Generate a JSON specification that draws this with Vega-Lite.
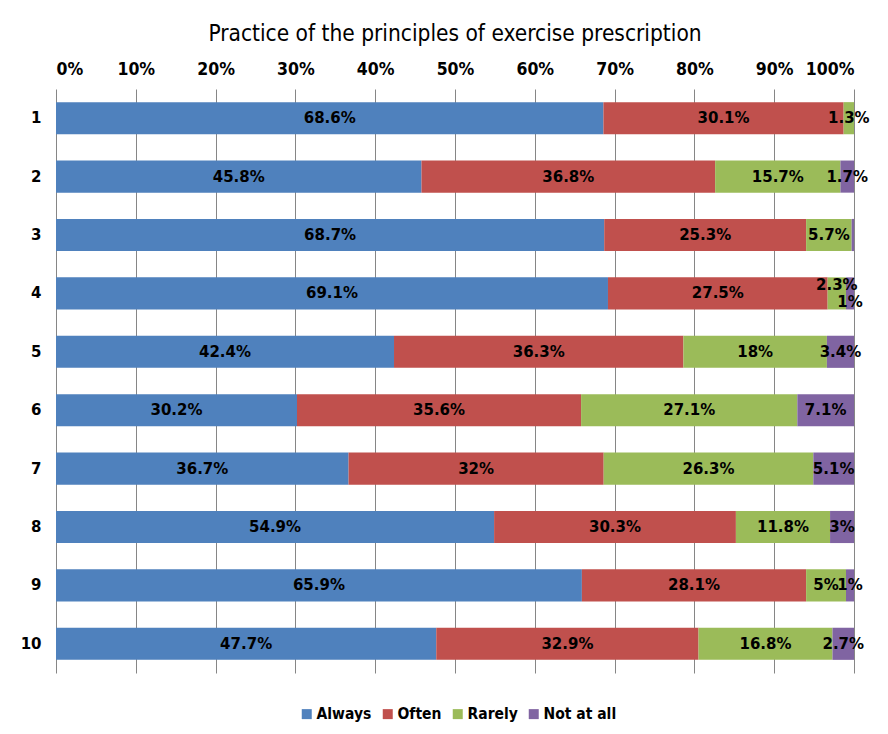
{
  "$schema": "https://vega.github.io/schema/vega-lite/v6.json",
  "autosize": {"type": "none"},
  "padding": {"left": 56, "top": 89, "right": 34, "bottom": 61},
  "width": 798,
  "height": 584,
  "background": "white",
  "title": {
    "text": "Practice of the principles of exercise prescription",
    "font": "DejaVu Sans Condensed, sans-serif",
    "fontSize": 22.5,
    "fontWeight": "normal",
    "color": "black",
    "anchor": "middle",
    "offset": 15
  },
  "data": {
    "values": [
      {"item": 1, "cat": "Always", "ord": 1, "value": 68.6},
      {"item": 1, "cat": "Often", "ord": 2, "value": 30.1},
      {"item": 1, "cat": "Rarely", "ord": 3, "value": 1.3},
      {"item": 2, "cat": "Always", "ord": 1, "value": 45.8},
      {"item": 2, "cat": "Often", "ord": 2, "value": 36.8},
      {"item": 2, "cat": "Rarely", "ord": 3, "value": 15.7},
      {"item": 2, "cat": "Not at all", "ord": 4, "value": 1.7},
      {"item": 3, "cat": "Always", "ord": 1, "value": 68.7},
      {"item": 3, "cat": "Often", "ord": 2, "value": 25.3},
      {"item": 3, "cat": "Rarely", "ord": 3, "value": 5.7},
      {"item": 3, "cat": "Not at all", "ord": 4, "value": 0.3},
      {"item": 4, "cat": "Always", "ord": 1, "value": 69.1},
      {"item": 4, "cat": "Often", "ord": 2, "value": 27.5},
      {"item": 4, "cat": "Rarely", "ord": 3, "value": 2.3},
      {"item": 4, "cat": "Not at all", "ord": 4, "value": 1},
      {"item": 5, "cat": "Always", "ord": 1, "value": 42.4},
      {"item": 5, "cat": "Often", "ord": 2, "value": 36.3},
      {"item": 5, "cat": "Rarely", "ord": 3, "value": 18},
      {"item": 5, "cat": "Not at all", "ord": 4, "value": 3.4},
      {"item": 6, "cat": "Always", "ord": 1, "value": 30.2},
      {"item": 6, "cat": "Often", "ord": 2, "value": 35.6},
      {"item": 6, "cat": "Rarely", "ord": 3, "value": 27.1},
      {"item": 6, "cat": "Not at all", "ord": 4, "value": 7.1},
      {"item": 7, "cat": "Always", "ord": 1, "value": 36.7},
      {"item": 7, "cat": "Often", "ord": 2, "value": 32},
      {"item": 7, "cat": "Rarely", "ord": 3, "value": 26.3},
      {"item": 7, "cat": "Not at all", "ord": 4, "value": 5.1},
      {"item": 8, "cat": "Always", "ord": 1, "value": 54.9},
      {"item": 8, "cat": "Often", "ord": 2, "value": 30.3},
      {"item": 8, "cat": "Rarely", "ord": 3, "value": 11.8},
      {"item": 8, "cat": "Not at all", "ord": 4, "value": 3},
      {"item": 9, "cat": "Always", "ord": 1, "value": 65.9},
      {"item": 9, "cat": "Often", "ord": 2, "value": 28.1},
      {"item": 9, "cat": "Rarely", "ord": 3, "value": 5},
      {"item": 9, "cat": "Not at all", "ord": 4, "value": 1},
      {"item": 10, "cat": "Always", "ord": 1, "value": 47.7},
      {"item": 10, "cat": "Often", "ord": 2, "value": 32.9},
      {"item": 10, "cat": "Rarely", "ord": 3, "value": 16.8},
      {"item": 10, "cat": "Not at all", "ord": 4, "value": 2.7}
    ]
  },
  "transform": [
    {"stack": "value", "groupby": ["item"], "sort": [{"field": "ord", "order": "ascending"}], "offset": "normalize", "as": ["v0", "v1"]},
    {"calculate": "(datum.v0 + datum.v1) / 2", "as": "mid"},
    {"calculate": "datum.value + '%'", "as": "label"}
  ],
  "encoding": {
    "y": {
      "field": "item",
      "type": "ordinal",
      "scale": {"paddingInner": 0.45, "paddingOuter": 0.225},
      "axis": {
        "title": null,
        "domain": false,
        "ticks": false,
        "grid": false,
        "labelFont": "DejaVu Sans",
        "labelFontWeight": "bold",
        "labelFontSize": 15,
        "labelColor": "black",
        "labelPadding": 15
      }
    }
  },
  "layer": [
    {
      "mark": {"type": "bar"},
      "encoding": {
        "x": {
          "field": "v0",
          "type": "quantitative",
          "scale": {"domain": [0, 1], "nice": false},
          "axis": {
            "orient": "top",
            "title": null,
            "format": ".0%",
            "values": [0, 0.1, 0.2, 0.3, 0.4, 0.5, 0.6, 0.7, 0.8, 0.9, 1],
            "domain": false,
            "ticks": false,
            "grid": true,
            "gridColor": "#868686",
            "gridOpacity": 1,
            "gridWidth": 1,
            "labelFont": "DejaVu Sans Condensed, sans-serif",
            "labelFontWeight": "bold",
            "labelFontSize": 17.5,
            "labelColor": "black",
            "labelPadding": 11
          }
        },
        "x2": {"field": "v1"},
        "color": {
          "field": "cat",
          "type": "nominal",
          "scale": {
            "domain": ["Always", "Often", "Rarely", "Not at all"],
            "range": ["#4F81BD", "#C0504D", "#9BBB59", "#8064A2"]
          },
          "legend": {
            "title": null,
            "orient": "none",
            "direction": "horizontal",
            "legendX": 243,
            "legendY": 617,
            "symbolType": "square",
            "symbolSize": 100,
            "symbolStrokeWidth": 0,
            "symbolOpacity": 1,
            "labelFont": "DejaVu Sans Condensed, sans-serif",
            "labelFontWeight": "bold",
            "labelFontSize": 15.5,
            "labelColor": "black",
            "labelOffset": 2,
            "columnPadding": 8
          }
        }
      }
    },
    {
      "transform": [
        {"filter": "datum.value >= 0.5 && !(datum.item == 4 && datum.ord >= 3)"}
      ],
      "mark": {"type": "text", "font": "DejaVu Sans", "fontWeight": "bold", "fontSize": 15, "color": "black", "baseline": "middle", "align": "center"},
      "encoding": {
        "x": {"field": "mid", "type": "quantitative"},
        "text": {"field": "label"}
      }
    },
    {
      "transform": [
        {"filter": "datum.item == 4 && datum.ord == 3"}
      ],
      "mark": {"type": "text", "font": "DejaVu Sans", "fontWeight": "bold", "fontSize": 15, "color": "black", "baseline": "middle", "align": "center", "dy": -8},
      "encoding": {
        "x": {"field": "mid", "type": "quantitative"},
        "text": {"field": "label"}
      }
    },
    {
      "transform": [
        {"filter": "datum.item == 4 && datum.ord == 4"}
      ],
      "mark": {"type": "text", "font": "DejaVu Sans", "fontWeight": "bold", "fontSize": 15, "color": "black", "baseline": "middle", "align": "center", "dy": 9},
      "encoding": {
        "x": {"field": "mid", "type": "quantitative"},
        "text": {"field": "label"}
      }
    }
  ],
  "config": {
    "view": {"stroke": null}
  }
}
